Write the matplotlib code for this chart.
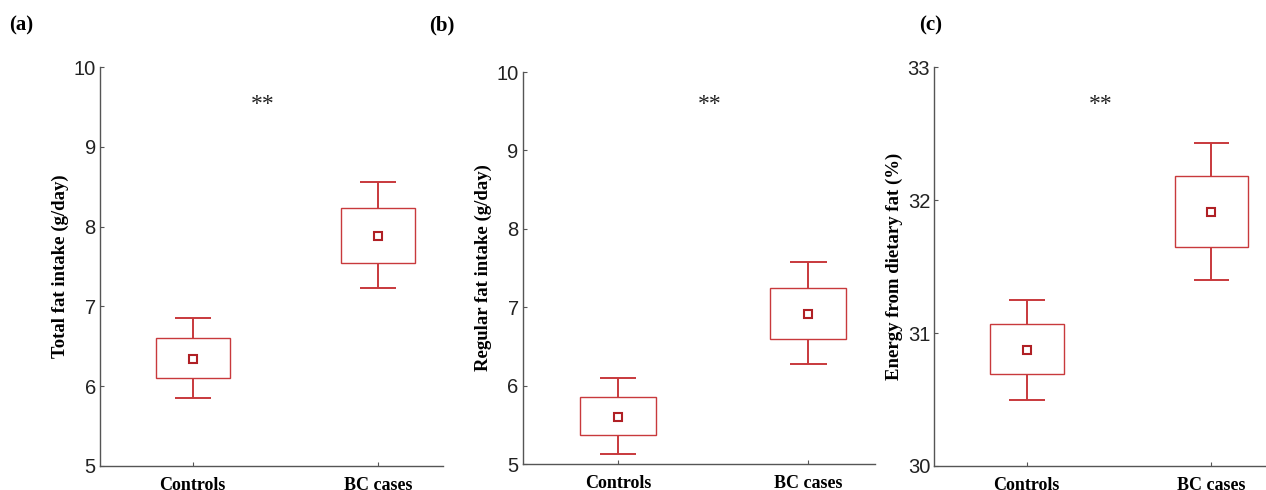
import matplotlib.pyplot as plt

# group names and per-panel summary values
groups = ['Controls', 'BC cases']

# (a) total fat intake (g/day)
a_mean = [6.34, 7.88]
a_box_lo = [6.10, 7.55]
a_box_hi = [6.60, 8.23]
a_wh_lo = [5.85, 7.23]
a_wh_hi = [6.86, 8.56]

# (b) regular fat intake (g/day)
b_mean = [5.60, 6.92]
b_box_lo = [5.37, 6.59]
b_box_hi = [5.86, 7.25]
b_wh_lo = [5.13, 6.28]
b_wh_hi = [6.10, 7.58]

# (c) energy from dietary fat (%)
c_mean = [30.87, 31.91]
c_box_lo = [30.69, 31.65]
c_box_hi = [31.07, 32.18]
c_wh_lo = [30.50, 31.40]
c_wh_hi = [31.25, 32.43]

panels = [
    ('a', 'Total fat intake (g/day)', (5, 10), [5, 6, 7, 8, 9, 10], 0.38, 9.53,
     a_mean, a_box_lo, a_box_hi, a_wh_lo, a_wh_hi),
    ('b', 'Regular fat intake (g/day)', (5, 10), [5, 6, 7, 8, 9, 10], 0.48, 9.58,
     b_mean, b_box_lo, b_box_hi, b_wh_lo, b_wh_hi),
    ('c', 'Energy from dietary fat (%)', (30, 33), [30, 31, 32, 33], 0.40, 32.72,
     c_mean, c_box_lo, c_box_hi, c_wh_lo, c_wh_hi),
]

# axes rectangles in figure fractions
rects = [
    [0.079, 0.049, 0.271, 0.814],
    [0.413, 0.053, 0.278, 0.800],
    [0.738, 0.049, 0.270, 0.814],
]
label_x = [0.017, 0.349, 0.735]

red = '#c8393c'
dark_red = '#b02025'
serif = ['Liberation Serif', 'DejaVu Serif']
sans = ['Liberation Sans', 'DejaVu Sans']

fig = plt.figure(figsize=(12.66, 4.9), dpi=100)

for (tag, ylab, ylim, yticks, star_x, star_y, mean, blo, bhi, wlo, whi), r, lx in zip(panels, rects, label_x):
    ax = fig.add_axes(r)
    x = list(range(len(groups)))

    # boxes
    ax.bar(x, [h - l for h, l in zip(bhi, blo)], bottom=blo, width=0.4,
           fill=False, edgecolor=red, linewidth=1.0)
    # whiskers and caps
    ax.vlines(x, bhi, whi, color=red, linewidth=1.4)
    ax.vlines(x, wlo, blo, color=red, linewidth=1.4)
    ax.hlines(whi, [i - 0.097 for i in x], [i + 0.097 for i in x], color=red, linewidth=1.4)
    ax.hlines(wlo, [i - 0.097 for i in x], [i + 0.097 for i in x], color=red, linewidth=1.4)
    # means
    ax.plot(x, mean, linestyle='none', marker='s', markersize=6,
            markerfacecolor='white', markeredgecolor=dark_red, markeredgewidth=1.5)

    ax.text(star_x, star_y, '**', ha='center', va='center', fontsize=17,
            family=serif, color='#222222')

    ax.set_xlim(-0.5, 1.35)
    ax.set_ylim(*ylim)
    ax.set_yticks(yticks)
    ax.set_xticks(x)
    ax.set_xticklabels(groups, family=serif, fontweight='bold', fontsize=13)
    for t in ax.get_yticklabels():
        t.set_family(sans)
        t.set_fontsize(14.5)
        t.set_color('#222222')
    ax.set_ylabel(ylab, family=serif, fontweight='bold', fontsize=13.5, labelpad=3)

    for s in ['top', 'right']:
        ax.spines[s].set_visible(False)
    for s in ['left', 'bottom']:
        ax.spines[s].set_color('#555555')
        ax.spines[s].set_linewidth(1.0)
    ax.tick_params(direction='in', length=3, width=0.8, color='#555555')
    ax.tick_params(axis='x', pad=8)
    ax.tick_params(axis='y', pad=3)

    fig.text(lx, 0.949, f'({tag})', ha='center', va='center', family=serif,
             fontweight='bold', fontsize=15)

fig.savefig('out.png', dpi=100)
